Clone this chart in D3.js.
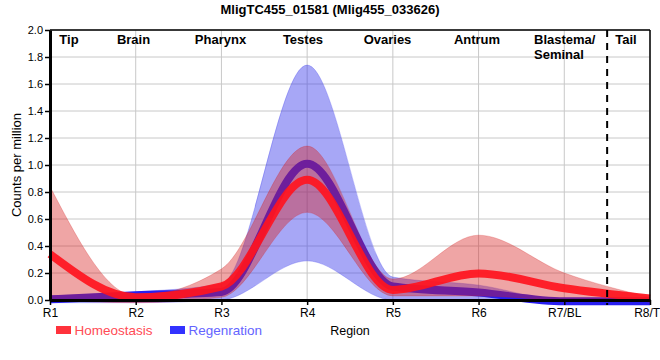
<!DOCTYPE html>
<html>
<head>
<meta charset="utf-8">
<script src="https://cdn.jsdelivr.net/npm/d3@7"></script>
<style>
  html, body { margin: 0; padding: 0; background: #fff; }
  svg { display: block; font-family: "Liberation Sans", Arial, Helvetica, sans-serif; }
</style>
</head>
<body>
<svg id="chart" width="660" height="360"></svg>
<script>
// ---- data ----
const title = "MligTC455_01581 (Mlig455_033626)";
const regions = ["R1", "R2", "R3", "R4", "R5", "R6", "R7/BL", "R8/TL"];
const regionNames = ["Tip", "Brain", "Pharynx", "Testes", "Ovaries", "Antrum", "Blastema/|Seminal", "Tail"];
const yTicks = [0, 0.2, 0.4, 0.6, 0.8, 1.0, 1.2, 1.4, 1.6, 1.8, 2.0];

const homeoMean = [0.34, 0.02, 0.10, 0.89, 0.075, 0.197, 0.087, 0.012];
const homeoLow  = [0.00, -0.02, 0.02, 0.65, 0.03, 0.03, 0.00, 0.00];
const homeoHigh = [0.84, 0.03, 0.23, 1.14, 0.155, 0.48, 0.20, 0.02];

const regenMean = [0.005, 0.035, 0.06, 1.01, 0.10, 0.055, -0.01, -0.01];
const regenLow  = [-0.02, -0.02, 0.00, 0.29, 0.00, 0.00, -0.02, -0.02];
const regenHigh = [0.03, 0.06, 0.12, 1.74, 0.17, 0.11, 0.00, 0.00];

const seriesNames = ["Homeostasis", "Regenration"];
const axisTitleX = "Region";
const axisTitleY = "Counts per million";

// ---- layout ----
const svg = d3.select("#chart");
const L = 50, R = 650, T = 30, B = 300;
const x = d3.scaleLinear().domain([0, regions.length - 1]).range([L, R]);
const y = d3.scaleLinear().domain([0, 2]).range([B, T]);
const tailBoundary = 6.5;
const labelCenters = [69, 133.5, 220.5, 303, 387.5, 477, null, 626];
const blastemaLeft = 534;

// grid
const grid = svg.append("g").attr("stroke", "#c8c8c8").attr("stroke-width", 1);
regions.forEach((r, i) => {
  grid.append("line").attr("x1", x(i)).attr("x2", x(i)).attr("y1", T).attr("y2", B);
});
yTicks.forEach(v => {
  grid.append("line").attr("x1", L).attr("x2", R).attr("y1", y(v)).attr("y2", y(v));
});

// curves
const idx = d3.range(regions.length);
const area = (lo, hi) => d3.area().x(i => x(i)).y0(i => y(lo[i])).y1(i => y(hi[i])).curve(d3.curveMonotoneX);
const line = (m) => d3.line().x(i => x(i)).y(i => y(m[i])).curve(d3.curveMonotoneX);

svg.append("path").datum(idx).attr("d", area(regenLow, regenHigh))
  .attr("fill", "rgba(60,60,235,0.45)").attr("stroke", "rgba(60,60,235,0.35)").attr("stroke-width", 0.8);
svg.append("path").datum(idx).attr("d", line(regenMean))
  .attr("fill", "none").attr("stroke", "rgb(40,30,240)").attr("stroke-width", 8);
svg.append("path").datum(idx).attr("d", area(homeoLow, homeoHigh))
  .attr("fill", "rgba(215,30,30,0.4)").attr("stroke", "rgba(215,30,30,0.3)").attr("stroke-width", 0.8);
svg.append("path").datum(idx).attr("d", line(homeoMean))
  .attr("fill", "none").attr("stroke", "rgba(255,20,30,0.92)").attr("stroke-width", 8);

// frame top/right
svg.append("line").attr("x1", L).attr("x2", R).attr("y1", T).attr("y2", T).attr("stroke", "#000").attr("stroke-width", 1.5);
svg.append("line").attr("x1", R).attr("x2", R).attr("y1", T).attr("y2", B).attr("stroke", "#000").attr("stroke-width", 1.5);

// dashed tail boundary
svg.append("line").attr("x1", x(tailBoundary)).attr("x2", x(tailBoundary)).attr("y1", T).attr("y2", B + 5)
  .attr("stroke", "#000").attr("stroke-width", 2).attr("stroke-dasharray", "7,6");

// axes
const yAxis = svg.append("g").attr("transform", `translate(${L},0)`)
  .call(d3.axisLeft(y).tickValues(yTicks).tickFormat(d3.format(".1f")).tickSize(5).tickSizeOuter(0).tickPadding(2));
const xAxis = svg.append("g").attr("transform", `translate(0,${B})`)
  .call(d3.axisBottom(x).tickValues(idx).tickFormat(i => regions[i]).tickSize(5).tickSizeOuter(0).tickPadding(3));
[yAxis, xAxis].forEach(g => {
  g.select(".domain").attr("stroke", "#000").attr("stroke-width", 3);
  g.selectAll(".tick line").attr("stroke", "#000").attr("stroke-width", 1.5);
  g.selectAll("text").attr("fill", "#000").attr("font-family", "Liberation Sans, Arial, sans-serif");
});
yAxis.selectAll("text").attr("font-size", 11);
xAxis.selectAll("text").attr("font-size", 12);

// region names
regionNames.forEach((n, i) => {
  const parts = n.split("|");
  const t = svg.append("text").attr("font-size", 13).attr("font-weight", "bold").attr("fill", "#000");
  if (labelCenters[i] === null) {
    t.attr("text-anchor", "start");
    parts.forEach((p, k) => t.append("tspan").attr("x", blastemaLeft).attr("y", 44 + k * 14.5).text(p));
  } else {
    t.attr("text-anchor", "middle").attr("x", labelCenters[i]).attr("y", 44).text(parts[0]);
  }
});

// title
svg.append("text").attr("x", 330).attr("y", 14).attr("text-anchor", "middle")
  .attr("font-size", 13).attr("font-weight", "bold").text(title);

// axis titles
svg.append("text").attr("transform", `translate(21,${(T + B) / 2}) rotate(-90)`)
  .attr("text-anchor", "middle").attr("font-size", 13).text(axisTitleY);
svg.append("text").attr("x", (L + R) / 2).attr("y", 335).attr("text-anchor", "middle")
  .attr("font-size", 12.5).text(axisTitleX);

// legend
const legend = [
  {name: seriesNames[0], sw: "rgb(255,50,60)", tc: "rgb(255,75,85)", x: 56},
  {name: seriesNames[1], sw: "rgb(50,50,255)", tc: "rgb(100,100,255)", x: 170}
];
legend.forEach(d => {
  svg.append("rect").attr("x", d.x).attr("y", 326).attr("width", 15).attr("height", 8).attr("fill", d.sw);
  svg.append("text").attr("x", d.x + 18.5).attr("y", 334.5).attr("font-size", 13.5).attr("fill", d.tc).text(d.name);
});
</script>
</body>
</html>
